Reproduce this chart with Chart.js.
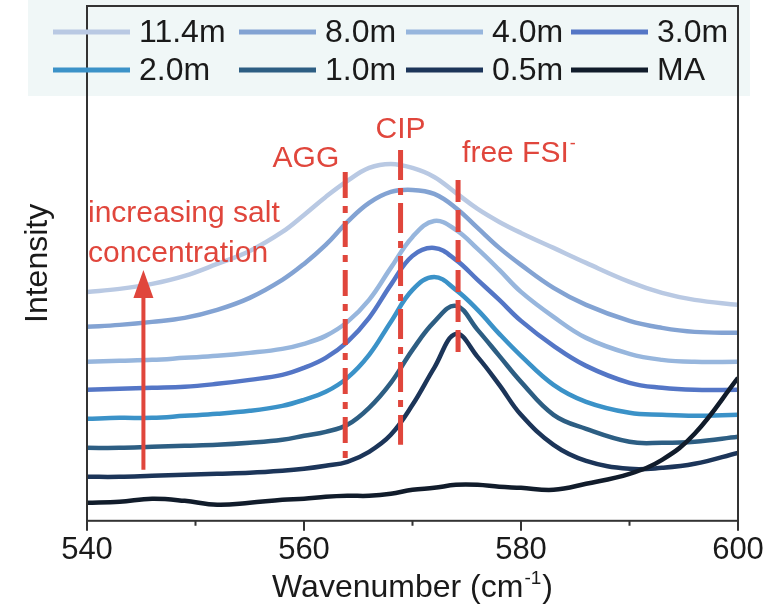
<!DOCTYPE html>
<html>
<head>
<meta charset="utf-8">
<script src="https://cdn.jsdelivr.net/npm/chart.js@4.4.1/dist/chart.umd.min.js"></script>
<style>
  html, body { margin: 0; padding: 0; background: #fff; }
  #wrap { width: 771px; height: 604px; }
</style>
</head>
<body>
<div id="wrap"><canvas id="grafico" width="771" height="604"></canvas></div>
<script>
// Raman spectra, FSI- stretching band, a.u. (curves are offset vertically)
const wavenumbers = [540, 543, 546, 549, 552, 555, 558, 560, 562, 564, 566, 568,
                     570, 572, 574, 576, 578, 580, 583, 586, 590, 593, 596, 600];

const seriesLabels = ["11.4m", "8.0m", "4.0m", "3.0m", "2.0m", "1.0m", "0.5m", "MA"];
const seriesColors = ["#b9c9e3", "#83a3d3", "#97b6dd", "#5476c6", "#3b92c8", "#2d5e83", "#1c3559", "#111c2b"];

const int114 = [2.29, 2.32, 2.37, 2.45, 2.57, 2.70, 2.89, 3.06, 3.24, 3.40, 3.53, 3.57,
                3.53, 3.44, 3.28, 3.12, 2.99, 2.88, 2.73, 2.58, 2.39, 2.28, 2.21, 2.16];
const int80  = [1.94, 1.96, 1.99, 2.03, 2.11, 2.23, 2.41, 2.57, 2.76, 2.99, 3.18, 3.29,
                3.31, 3.27, 3.13, 2.93, 2.73, 2.56, 2.33, 2.16, 2.00, 1.93, 1.89, 1.88];
const int40  = [1.59, 1.60, 1.61, 1.63, 1.65, 1.68, 1.72, 1.77, 1.85, 1.99, 2.21, 2.53,
                2.84, 3.00, 2.91, 2.72, 2.51, 2.29, 2.04, 1.83, 1.67, 1.61, 1.59, 1.59];
const int30  = [1.31, 1.32, 1.33, 1.34, 1.37, 1.41, 1.46, 1.53, 1.63, 1.79, 2.03, 2.36,
                2.65, 2.73, 2.61, 2.41, 2.21, 2.00, 1.75, 1.55, 1.38, 1.33, 1.31, 1.31];
const int20  = [1.02, 1.03, 1.03, 1.05, 1.07, 1.10, 1.15, 1.21, 1.29, 1.43, 1.66, 1.99,
                2.31, 2.44, 2.31, 2.11, 1.87, 1.65, 1.36, 1.19, 1.08, 1.06, 1.05, 1.06];
const int10  = [0.73, 0.73, 0.74, 0.75, 0.76, 0.78, 0.81, 0.85, 0.89, 0.96, 1.13, 1.38,
                1.71, 1.99, 2.15, 1.91, 1.65, 1.39, 1.06, 0.92, 0.79, 0.78, 0.79, 0.84];
const int05  = [0.44, 0.44, 0.45, 0.46, 0.47, 0.48, 0.50, 0.52, 0.55, 0.59, 0.69, 0.86,
                1.16, 1.53, 1.87, 1.64, 1.36, 1.06, 0.76, 0.60, 0.52, 0.53, 0.57, 0.68];
const intMA  = [0.18, 0.19, 0.22, 0.20, 0.16, 0.18, 0.21, 0.22, 0.24, 0.25, 0.25, 0.27,
                0.31, 0.33, 0.36, 0.36, 0.34, 0.33, 0.31, 0.37, 0.47, 0.61, 0.87, 1.43];

const seriesValues = [int114, int80, int40, int30, int20, int10, int05, intMA];

// Band markers: AGG, CIP, free FSI-
const bandLabels = ["AGG", "CIP", "free FSI"];
const bandCenters = [563.8, 568.9, 574.2];
const bandTops = [3.49, 3.71, 3.41];
const bandBottoms = [0.56, 0.76, 1.61];

// Arrow "increasing salt concentration"
const arrowAt = 545.2;
const arrowFrom = 0.51;
const arrowTo = 2.51;

const FONTE = '"Liberation Sans", Arial, sans-serif';
const VERMELHO = "#e0463c";
const TEXTO = "#1a1a1a";

/** Text with a raised superscript part, returns the end x */
function textoComExpoente(ctx, base, sup, x, y, size) {
  ctx.textAlign = "left";
  ctx.textBaseline = "alphabetic";
  ctx.font = `${size}px ${FONTE}`;
  const wBase = ctx.measureText(base).width;
  ctx.fillText(base, x, y);
  ctx.font = `${Math.round(size * 0.6)}px ${FONTE}`;
  ctx.fillText(sup, x + wBase + 1, y - size * 0.42);
  return x + wBase + 1 + ctx.measureText(sup).width;
}

const decoracao = {
  id: "decoracao",
  beforeDraw(chart) {
    // pale panel behind the legend
    const { ctx } = chart;
    ctx.save();
    ctx.fillStyle = "#f0f7f7";
    ctx.fillRect(28, 0, 722, 96);
    ctx.restore();
  },
  afterDatasetsDraw(chart) {
    const { ctx, scales: { x, y } } = chart;
    ctx.save();
    ctx.strokeStyle = VERMELHO;
    ctx.fillStyle = VERMELHO;
    ctx.lineWidth = 5;

    // dashed band markers
    const padroes = [[26, 8, 7, 8], [30, 8, 7, 8], [22, 8]];
    bandCenters.forEach((c, i) => {
      const px = x.getPixelForValue(c);
      ctx.setLineDash(padroes[i]);
      ctx.beginPath();
      ctx.moveTo(px, y.getPixelForValue(bandTops[i]));
      ctx.lineTo(px, y.getPixelForValue(bandBottoms[i]));
      ctx.stroke();
    });
    ctx.setLineDash([]);

    // band labels
    ctx.font = `30px ${FONTE}`;
    ctx.textBaseline = "alphabetic";
    const pAgg = x.getPixelForValue(bandCenters[0]);
    ctx.textAlign = "right";
    ctx.fillText(bandLabels[0], pAgg - 6, y.getPixelForValue(bandTops[0]) - 5);
    const pCip = x.getPixelForValue(bandCenters[1]);
    ctx.textAlign = "center";
    ctx.fillText(bandLabels[1], pCip, y.getPixelForValue(bandTops[1]) - 12);
    const pFree = x.getPixelForValue(bandCenters[2]);
    textoComExpoente(ctx, bandLabels[2], "-", pFree + 4, y.getPixelForValue(bandTops[2]) - 18, 30);

    // arrow
    const ax = x.getPixelForValue(arrowAt);
    const yBase = y.getPixelForValue(arrowFrom);
    const yTip = y.getPixelForValue(arrowTo);
    ctx.lineWidth = 4;
    ctx.beginPath();
    ctx.moveTo(ax, yBase);
    ctx.lineTo(ax, yTip + 24);
    ctx.stroke();
    ctx.beginPath();
    ctx.moveTo(ax, yTip);
    ctx.lineTo(ax - 10, yTip + 28);
    ctx.lineTo(ax + 10, yTip + 28);
    ctx.closePath();
    ctx.fill();

    ctx.font = `30px ${FONTE}`;
    ctx.textAlign = "left";
    ctx.fillText("increasing salt", 88, 222);
    ctx.fillText("concentration", 88, 262);
    ctx.restore();
  },
  afterDraw(chart) {
    const { ctx, chartArea: a, scales: { x } } = chart;
    ctx.save();

    // frame
    ctx.strokeStyle = "#333";
    ctx.lineWidth = 2;
    ctx.strokeRect(a.left, a.top, a.right - a.left, a.bottom - a.top);

    // major and minor ticks on the wavenumber axis
    ctx.beginPath();
    x.ticks.forEach((t, i) => {
      const px = x.getPixelForValue(t.value);
      ctx.moveTo(px, a.bottom);
      ctx.lineTo(px, a.bottom + 10);
      if (i < x.ticks.length - 1) {
        const pm = x.getPixelForValue((t.value + x.ticks[i + 1].value) / 2);
        ctx.moveTo(pm, a.bottom);
        ctx.lineTo(pm, a.bottom + 5);
      }
    });
    ctx.stroke();

    // axis titles
    ctx.fillStyle = TEXTO;
    ctx.font = `32px ${FONTE}`;
    const w1 = ctx.measureText("Wavenumber (cm").width;
    const w3 = ctx.measureText(")").width;
    ctx.font = `19px ${FONTE}`;
    const w2 = ctx.measureText("-1").width;
    const x0 = (a.left + a.right) / 2 - (w1 + w2 + w3 + 2) / 2;
    const fim = textoComExpoente(ctx, "Wavenumber (cm", "-1", x0, 597, 32);
    ctx.font = `32px ${FONTE}`;
    ctx.fillText(")", fim + 1, 597);

    ctx.translate(47, (a.top + a.bottom) / 2);
    ctx.rotate(-Math.PI / 2);
    ctx.textAlign = "center";
    ctx.fillText("Intensity", 0, 0);
    ctx.restore();

    // legend, 4 columns x 2 rows
    ctx.save();
    const colunas = [53, 239, 406, 571];
    const linhas = [32, 70];
    ctx.font = `32px ${FONTE}`;
    ctx.textBaseline = "middle";
    ctx.textAlign = "left";
    ctx.lineWidth = 5;
    seriesLabels.forEach((rotulo, i) => {
      const cx0 = colunas[i % 4];
      const cy = linhas[Math.floor(i / 4)];
      ctx.strokeStyle = seriesColors[i];
      ctx.beginPath();
      ctx.moveTo(cx0, cy);
      ctx.lineTo(cx0 + 77, cy);
      ctx.stroke();
      ctx.fillStyle = TEXTO;
      ctx.fillText(rotulo, cx0 + 86, cy + 1);
    });
    ctx.restore();
  },
};

const datasets = seriesLabels.map((rotulo, i) => ({
  label: rotulo,
  data: wavenumbers.map((w, k) => ({ x: w, y: seriesValues[i][k] })),
  borderColor: seriesColors[i],
  borderWidth: 4.5,
  pointRadius: 0,
  fill: false,
  tension: 0.4,
  order: seriesLabels.length - i,
}));

new Chart(document.getElementById("grafico"), {
  type: "line",
  data: { datasets },
  plugins: [decoracao],
  options: {
    responsive: false,
    animation: false,
    devicePixelRatio: 1,
    layout: { padding: { left: 87, right: 33, top: 6, bottom: 24 } },
    plugins: { legend: { display: false }, tooltip: { enabled: false } },
    scales: {
      x: {
        type: "linear",
        min: 540,
        max: 600,
        grid: { display: false, drawTicks: false },
        border: { display: false },
        ticks: {
          stepSize: 20,
          padding: 11,
          maxRotation: 0,
          color: TEXTO,
          font: { family: FONTE, size: 31 },
        },
        // let the layout padding alone decide the plot edges
        afterFit(scale) {
          scale.paddingLeft = 0;
          scale.paddingRight = 0;
        },
      },
      y: { display: false, min: 0, max: 5.15 },
    },
  },
});
</script>
</body>
</html>
